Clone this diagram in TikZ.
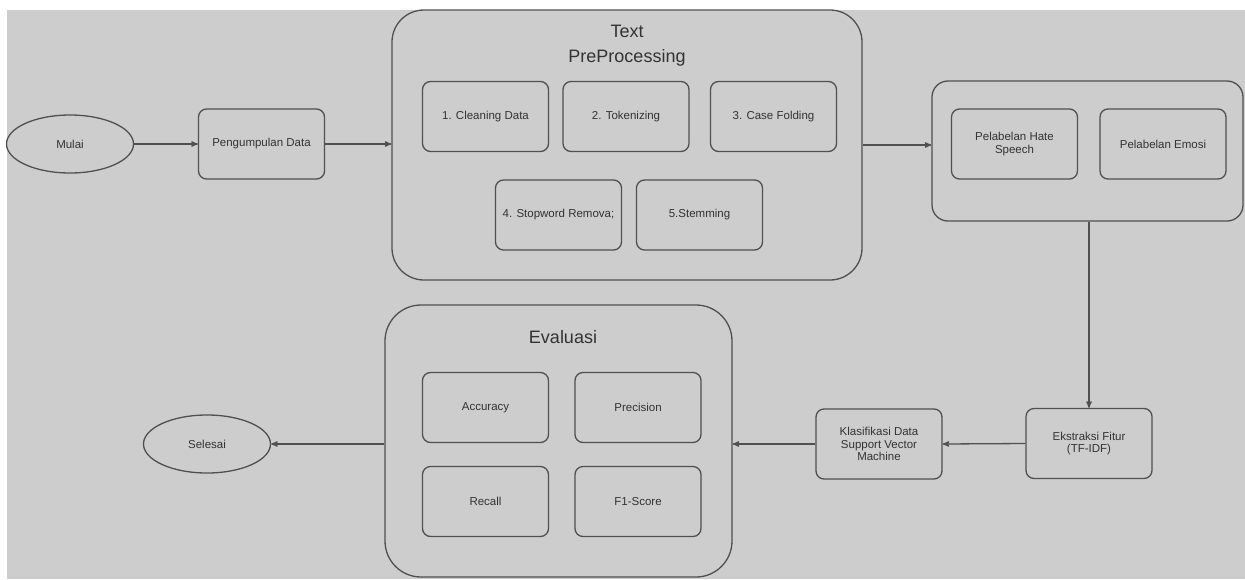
\documentclass[tikz,border=0pt]{standalone}
\usepackage{fontspec}
\setmainfont{Liberation Sans}
\usetikzlibrary{arrows}
\usetikzlibrary{shapes.geometric}
\definecolor{bgray}{HTML}{CDCDCD}
\definecolor{lgray}{HTML}{505050}
\definecolor{tgray}{HTML}{333333}

\begin{document}
\begin{tikzpicture} [x=1pt,y=-1pt,
  line width=1.3pt,
  stepbox/.style={draw=lgray,rounded corners=8pt,minimum width=126pt,minimum height=70pt,
    align=center,text=tgray,font=\fontsize{11.5}{12.5}\selectfont,inner sep=1pt},
  groupbox/.style={draw=lgray,minimum width=#1},
  terminal/.style={draw=lgray,ellipse,minimum width=127pt,minimum height=58pt,
    text=tgray,font=\fontsize{11.5}{12.5}\selectfont},
  title/.style={text=tgray,font=\fontsize{18}{25}\selectfont,align=center},
  flow/.style={draw=lgray,->,>=stealth'}]
\useasboundingbox[fill=white] (0,0) rectangle (1245,579);
\fill[bgray] (7,10) rectangle (1245,579);

% group boxes
\node[groupbox=470pt,minimum height=270pt,rounded corners=32pt] (pre) at (627,145) {};
\node[groupbox=311pt,minimum height=140pt,rounded corners=16pt] (lab) at (1087.5,151) {};
\node[groupbox=347pt,minimum height=272pt,rounded corners=36pt] (eva) at (558.5,441) {};
\node[title] (pretitle) at (627,46) {Text\\PreProcessing};
\node[title] (evatitle) at (563,337) {Evaluasi};

% start and end
\node[terminal] (mulai) at (70,144) {Mulai};
\node[terminal] (selesai) at (207,444) {Selesai};
\node[stepbox] (kumpul) at (261.5,144) {Pengumpulan Data};

% text preprocessing
\node[stepbox] (clean) at (485.5,116.5) {1. Cleaning Data};
\node[stepbox] (token) at (626,116.5) {2. Tokenizing};
\node[stepbox] (fold) at (773.5,116.5) {3. Case Folding};
\node[stepbox] (stop) at (558.5,215) {4. Stopword Remova;};
\node[stepbox] (stem) at (699.5,215) {5.Stemming};

% labelling
\node[stepbox] (hate) at (1014.5,144) {Pelabelan Hate\\Speech};
\node[stepbox] (emosi) at (1163,144) {Pelabelan Emosi};

% features and classification
\node[stepbox] (fitur) at (1089,443.5) {Ekstraksi Fitur\\(TF-IDF)};
\node[stepbox] (svm) at (879,444) {Klasifikasi Data\\Support Vector\\Machine};

% evaluation
\node[stepbox] (acc) at (485.5,407.5) {Accuracy};
\node[stepbox] (prec) at (638,407.5) {Precision};
\node[stepbox] (rec) at (485.5,501.5) {Recall};
\node[stepbox] (f1) at (638,501.5) {F1-Score};

% connectors
\draw[flow] (mulai.east)--(kumpul.west);
\draw[flow] (kumpul.east)--(kumpul.east -| pre.west);
\draw[flow] (pre.east)--(pre.east -| lab.west);
\draw[flow] (lab.south -| fitur.north)--(fitur.north);
\draw[flow] (fitur.west)--(svm.east);
\draw[flow] (svm.west)--(svm.west -| eva.east);
\draw[flow] (selesai.east -| eva.west)--(selesai.east);
\end{tikzpicture}
\end{document}
